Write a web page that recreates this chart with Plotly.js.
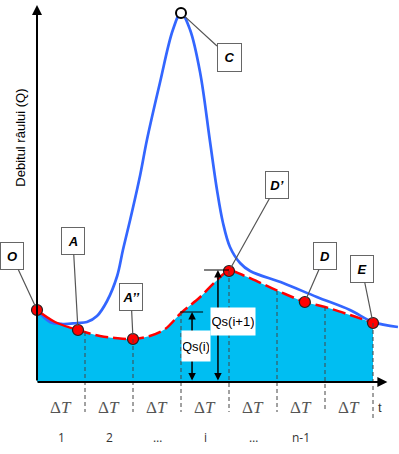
<!DOCTYPE html>
<html>
<head>
<meta charset="utf-8">
<script src="https://cdn.plot.ly/plotly-3.0.1.min.js"></script>
<style>html,body{margin:0;padding:0;background:#fff;}#chart{width:399px;height:454px;}</style>
</head>
<body>
<div id="chart"></div>
<script>
// Streamflow hydrograph (time in ΔT units, discharge Q)
const flowT = [0, 0.27, 0.54, 0.83, 1.04, 1.25, 1.46, 1.67, 1.79, 1.94, 2.15, 2.29, 2.56, 2.83, 3.0, 3.19, 3.40, 3.60, 3.75, 3.875, 4.02, 4.23, 4.44, 5.125, 5.83, 6.52, 7.0, 7.52];
const flowQ = [7.2, 6.0, 5.8, 5.9, 6.0, 6.6, 8.1, 10.6, 13.2, 16.2, 20.7, 24.2, 29.9, 35.2, 36.9, 35.2, 30.9, 24.2, 19.2, 15.9, 13.5, 11.9, 11.1, 9.9, 8.5, 7.2, 6.0, 5.5];
// Base-flow (separation) curve
const baseT = [0, 0.375, 0.854, 1.31, 1.625, 2.0, 2.35, 2.67, 3.0, 3.4, 3.71, 4.0, 4.33, 4.75, 5.17, 5.58, 6.0, 6.52, 7.0];
const baseQ = [7.2, 6.0, 5.2, 4.6, 4.4, 4.3, 4.6, 5.3, 6.9, 8.5, 10.0, 11.1, 10.6, 9.7, 8.8, 8.0, 7.5, 6.7, 5.9];
// Key points
const pointNames = ['O', 'A', 'A’’', 'D’', 'D', 'E'];
const pointT = [0, 0.854, 2.0, 4.0, 5.58, 7.0];
const pointQ = [7.2, 5.2, 4.3, 11.1, 8.0, 5.9];
const peakName = 'C';
const peakT = 3.0;
const peakQ = 36.9;
// Interval boundaries and labels
const boundT = [1, 2, 3, 4, 5, 6, 7];
const boundQ = [5.0, 4.3, 7.0, 11.1, 9.1, 7.5, 5.9];
const intervalSymbol = 'Δ<i>T</i>';
const intervalIndex = ['1', '2', '…', 'i', '…', 'n-1', ''];
// Qs markers
const qsNames = ['Qs(i)', 'Qs(i+1)'];
const qsT = [3.23, 3.77];
const qsQ = [7.0, 11.2];
const yTitle = 'Debitul râului (Q)';
const xTitle = 't';

const traces = [
  {x: baseT, y: baseQ, type: 'scatter', mode: 'lines', line: {width: 0, shape: 'spline'},
   fill: 'tozeroy', fillcolor: '#00BEF2', hoverinfo: 'skip', showlegend: false},
  {x: flowT, y: flowQ, type: 'scatter', mode: 'lines', line: {color: '#3366FF', width: 2.7, shape: 'spline'},
   hoverinfo: 'skip', showlegend: false},
  {x: baseT.slice(0, 3), y: baseQ.slice(0, 3), type: 'scatter', mode: 'lines',
   line: {color: '#FF0000', width: 2.5, shape: 'spline'}, showlegend: false},
  {x: baseT.slice(2), y: baseQ.slice(2), type: 'scatter', mode: 'lines',
   line: {color: '#FF0000', width: 2.5, shape: 'spline', dash: '13px,5px'}, showlegend: false},
  {x: pointT, y: pointQ, type: 'scatter', mode: 'markers',
   marker: {color: '#FF0000', size: 11, line: {color: '#222', width: 1.2}}, showlegend: false},
  {x: [peakT], y: [peakQ], type: 'scatter', mode: 'markers',
   marker: {color: '#FFFFFF', size: 10, line: {color: '#000', width: 2}}, showlegend: false}
];

const shapes = [];
const annotations = [];

// dashed interval lines
boundT.forEach((t, i) => {
  shapes.push({type: 'line', xref: 'x', yref: 'y', x0: t, x1: t, y0: boundQ[i], y1: i === boundT.length - 1 ? -3.6 : -3.0,
    line: {color: '#444', width: 1, dash: '4px,3px'}, layer: 'above'});
});
// Qs horizontal ticks
shapes.push({type: 'line', x0: qsT[0] - 0.25, x1: qsT[0] + 0.23, y0: qsQ[0], y1: qsQ[0], line: {color: '#000', width: 1}, layer: 'above'});
shapes.push({type: 'line', x0: qsT[1] - 0.29, x1: qsT[1] + 0.23, y0: qsQ[1], y1: qsQ[1], line: {color: '#000', width: 1}, layer: 'above'});

// axes with arrows
annotations.push({x: 0, y: 37.7, ax: 0, ay: 0, axref: 'x', ayref: 'y', xref: 'x', yref: 'y', text: '',
  showarrow: true, arrowhead: 2, arrowsize: 1, arrowwidth: 2, arrowcolor: '#000'});
annotations.push({x: 7.3, y: 0, ax: -0.02, ay: 0, axref: 'x', ayref: 'y', xref: 'x', yref: 'y', text: '',
  showarrow: true, arrowhead: 2, arrowsize: 1, arrowwidth: 2, arrowcolor: '#000'});

// Qs double arrows
qsT.forEach((t, i) => {
  annotations.push({x: t, y: qsQ[i], ax: t, ay: 0, axref: 'x', ayref: 'y', xref: 'x', yref: 'y', text: '',
    showarrow: true, arrowhead: 2, arrowside: 'end+start', arrowsize: 1, arrowwidth: 1.5, arrowcolor: '#000'});
});
annotations.push({x: 3.31, y: 3.6, xref: 'x', yref: 'y', text: qsNames[0], showarrow: false, bgcolor: '#fff',
  width: 26, height: 28, font: {family: 'Liberation Sans, Arial', size: 13, color: '#000'}});
annotations.push({x: 4.08, y: 6.1, xref: 'x', yref: 'y', text: qsNames[1], showarrow: false, bgcolor: '#fff',
  width: 42, height: 25, font: {family: 'Liberation Sans, Arial', size: 13, color: '#000'}});

// interval labels
for (let i = 0; i < 7; i++) {
  annotations.push({x: i + 0.5, y: -2.5, xref: 'x', yref: 'y', text: intervalSymbol, showarrow: false,
    font: {family: 'Liberation Serif, serif', size: 17, color: '#555'}});
  annotations.push({x: i + 0.5, y: -5.5, xref: 'x', yref: 'y', text: intervalIndex[i], showarrow: false,
    font: {family: 'Open Sans, Liberation Sans, sans-serif', size: 12, color: '#333'}});
}
annotations.push({x: 7.06, y: -2.5, xref: 'x', yref: 'y', text: xTitle, showarrow: false, xanchor: 'left',
  font: {family: 'Liberation Sans, Arial', size: 13, color: '#333'}});
annotations.push({x: -0.36, y: 24.4, xref: 'x', yref: 'y', text: yTitle, showarrow: false, textangle: -90,
  font: {family: 'Liberation Sans, Arial', size: 13, color: '#000'}});

// callouts
const calloutOffsets = [[-25, -54], [-5, -89], [-2, -42], [48, -86], [20, -46], [-11, -54]];
const callFont = {family: 'Liberation Sans, Arial', size: 13, color: '#000'};
pointNames.forEach((n, i) => {
  annotations.push({x: pointT[i], y: pointQ[i], xref: 'x', yref: 'y', ax: calloutOffsets[i][0], ay: calloutOffsets[i][1],
    text: '<b><i>' + n + '</i></b>', showarrow: true, arrowhead: 0, arrowwidth: 1.2, arrowcolor: '#555', standoff: 4,
    bgcolor: '#fff', bordercolor: '#666', borderwidth: 1, borderpad: 1, width: 20, height: 24, font: callFont});
});
annotations.push({x: peakT, y: peakQ, xref: 'x', yref: 'y', ax: 48, ay: 44,
  text: '<b><i>' + peakName + '</i></b>', showarrow: true, arrowhead: 0, arrowwidth: 1.2, arrowcolor: '#555', standoff: 5,
  bgcolor: '#fff', bordercolor: '#666', borderwidth: 1, borderpad: 1, width: 21, height: 25, font: callFont});

const layout = {
  width: 399, height: 454, autosize: false,
  margin: {l: 0, r: 0, t: 0, b: 0},
  paper_bgcolor: '#fff', plot_bgcolor: '#fff',
  xaxis: {range: [-37 / 48, 362 / 48], visible: false, fixedrange: true},
  yaxis: {range: [-7.2, 38.2], visible: false, fixedrange: true},
  shapes: shapes, annotations: annotations, showlegend: false
};
Plotly.newPlot('chart', traces, layout, {staticPlot: true});
</script>
</body>
</html>
